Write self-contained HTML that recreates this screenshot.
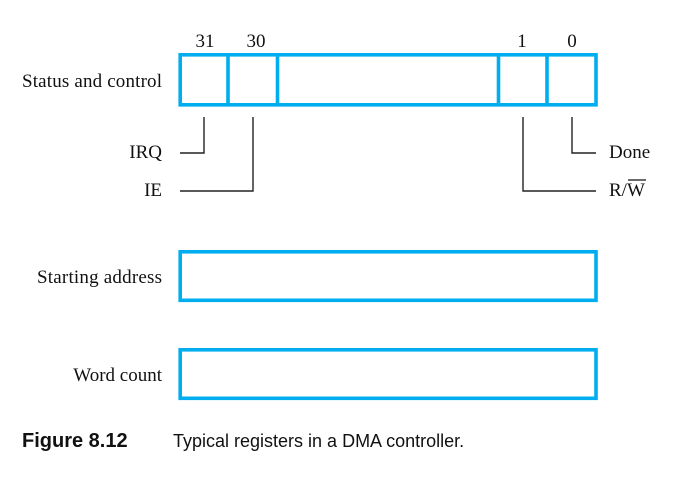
<!DOCTYPE html>
<html><head><style>html,body{margin:0;padding:0;background:#fff}</style></head>
<body>
<svg width="675" height="493" viewBox="0 0 675 493" xmlns="http://www.w3.org/2000/svg">
<g fill="none" stroke="#00AEEF" stroke-width="3.6">
<rect x="180.2" y="54.8" width="415.8" height="50"/>
<line x1="228" y1="54.8" x2="228" y2="104.8"/>
<line x1="277.5" y1="54.8" x2="277.5" y2="104.8"/>
<line x1="498.5" y1="54.8" x2="498.5" y2="104.8"/>
<line x1="547" y1="54.8" x2="547" y2="104.8"/>
<rect x="180.2" y="251.8" width="415.8" height="48.5"/>
<rect x="180.2" y="349.8" width="415.8" height="48.5"/>
</g>
<g fill="none" stroke="#222" stroke-width="1.4">
<polyline points="180,153 204,153 204,117"/>
<polyline points="180,191 253,191 253,117"/>
<polyline points="596,191 523,191 523,117"/>
<polyline points="596,153 572,153 572,117"/>
</g>
<g font-family="Liberation Serif, serif" font-size="19" fill="#111">
<text x="205" y="47" text-anchor="middle">31</text>
<text x="256" y="47" text-anchor="middle">30</text>
<text x="522" y="47" text-anchor="middle">1</text>
<text x="572" y="47" text-anchor="middle">0</text>
<text x="162" y="87" text-anchor="end" textLength="140">Status and control</text>
<text x="162" y="158" text-anchor="end">IRQ</text>
<text x="162" y="196" text-anchor="end">IE</text>
<text x="609" y="158">Done</text>
<text x="609" y="196">R/W</text>
<line x1="628" y1="180" x2="646" y2="180" stroke="#111" stroke-width="1.3"/>
<text x="162" y="283" text-anchor="end" textLength="125">Starting address</text>
<text x="162" y="381" text-anchor="end">Word count</text>
</g>
<text x="22" y="447" font-family="Liberation Sans, sans-serif" font-size="20" font-weight="bold" fill="#111">Figure 8.12</text>
<text x="173" y="447" font-family="Liberation Sans, sans-serif" font-size="18" fill="#111">Typical registers in a DMA controller.</text>
</svg>
</body></html>
